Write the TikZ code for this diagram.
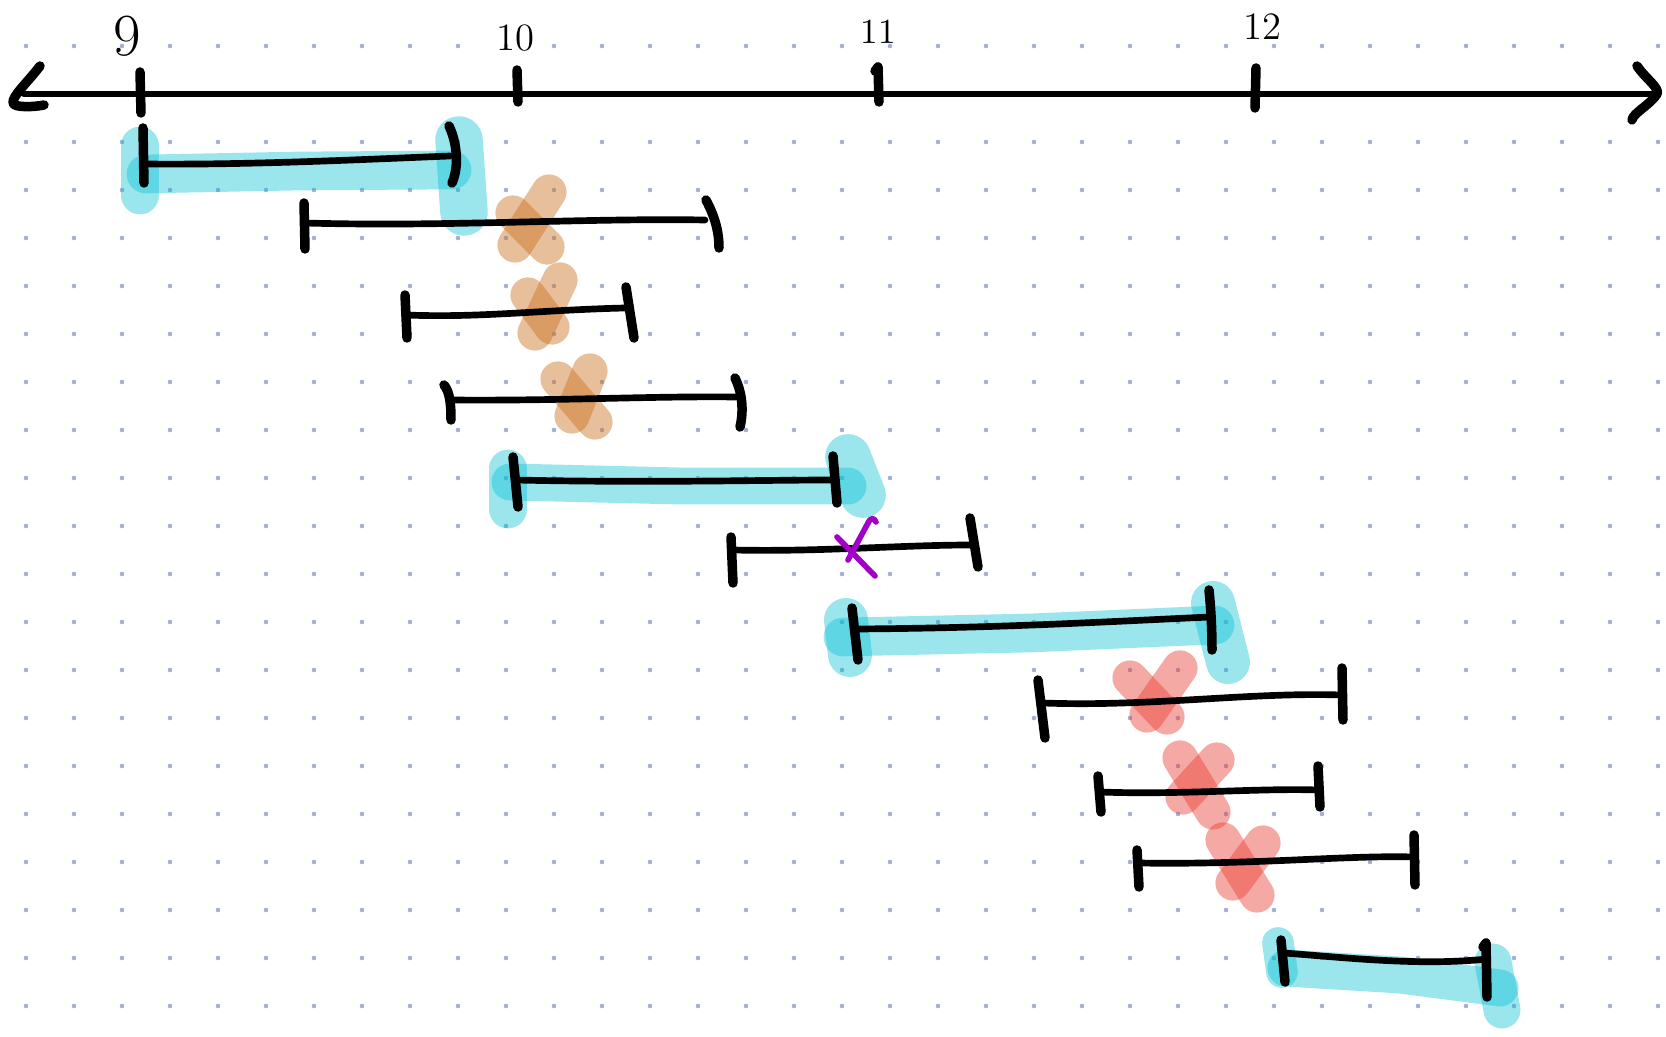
\documentclass[tikz,border=0pt]{standalone}
\definecolor{hlcyan}{RGB}{5,192,212}
\definecolor{hlorange}{RGB}{205,115,35}
\definecolor{hlred}{RGB}{235,65,55}
\definecolor{dotc}{RGB}{160,176,214}
\definecolor{checkc}{RGB}{160,0,200}
\begin{document}
\begin{tikzpicture}[x=0.01cm,y=-0.01cm,
  ink/.style={draw=black,line width=1.9pt,line cap=round,line join=round},
  tickmark/.style={draw=black,line width=2.7pt,line cap=round,line join=round},
  hlb/.style={draw=hlcyan,draw opacity=0.4,line cap=round,line join=round,line width=#1},
  hlb/.default=10pt,
  hlo/.style={draw=hlorange,draw opacity=0.45,line cap=round,line width=10pt},
  hlr/.style={draw=hlred,draw opacity=0.45,line cap=round,line width=10pt},
  chk/.style={draw=checkc,line width=1.6pt,line cap=round,line join=round},
  lbl/.style={inner sep=0pt,font=\fontsize{#1}{#1}\selectfont}]
\useasboundingbox (0,0) rectangle (1666,1037);
\fill[white] (0,0) rectangle (1666,1037);
% dot grid
\foreach \i in {0,...,34}{
  \foreach \j in {0,...,20}{
    \fill[dotc] (26+48*\i,46+48*\j) circle[radius=0.65pt];
  }
}
% ---------- axis ----------
\coordinate (axL) at (24,94);
\coordinate (axR) at (1657,94);
\draw[ink] (axL) -- (axR);
\draw[tickmark] (40,66) .. controls (28,82) and (12,96) .. (13,103) .. controls (14,108) and (35,107) .. (44,105);
\draw[tickmark] (1637,66) .. controls (1645,78) and (1660,88) .. (axR) .. controls (1650,105) and (1633,113) .. (1632,120);
\draw[tickmark] (140,72) -- (141,113);
\draw[tickmark] (517,70) -- (518,102);
\draw[tickmark] (875,71) -- (878,67) -- (879,102);
\draw[tickmark] (1256,68) -- (1255,108);
\node[lbl=17] (l9) at (127,36) {9};
\node[lbl=11] (l10) at (515,38) {10};
\node[lbl=10] (l11) at (878,32) {11};
\node[lbl=11] (l12) at (1262,27) {12};
% ---------- highlights ----------
% interval 1
\draw[hlb=11pt] (146,174) -- (300,171) -- (452,170);
\draw[hlb=11pt] (140,146) -- (140,195);
\draw[hlb=13.5pt] (459,140) -- (464,212);
% interval 5
\draw[hlb=10.5pt] (510,482) -- (680,486) -- (848,486);
\draw[hlb=11pt] (508,469) -- (508,509);
\draw[hlb=13pt] (848,457) -- (863,495);
% interval 7
\draw[hlb=11pt] (843,637) -- (1030,633) -- (1215,625);
\draw[hlb=12.5pt] (846,620) -- (850,655);
\draw[hlb=12.5pt] (1213,603) -- (1228,662);
% interval 11
\draw[hlb=10.5pt] (1286,968) -- (1400,975) -- (1500,988);
\draw[hlb=9pt] (1278,943) -- (1282,972);
\draw[hlb=10.5pt] (1493,962) -- (1502,1010);
% orange crosses
\draw[hlo] (549,192) -- (515,245);
\draw[hlo] (513,213) -- (547,247);
\draw[hlo] (560,280) -- (535,333);
\draw[hlo] (528,295) -- (552,327);
\draw[hlo] (590,371) -- (572,416);
\draw[hlo] (558,379) -- (595,422);
% red crosses
\draw[hlr] (1130,678) -- (1167,717);
\draw[hlr] (1180,668) -- (1147,715);
\draw[hlr] (1180,758) -- (1213,812);
\draw[hlr] (1217,760) -- (1183,797);
\draw[hlr] (1223,840) -- (1257,895);
\draw[hlr] (1263,843) -- (1233,883);
% ---------- intervals ----------
\coordinate (a1) at (143,164);  \coordinate (b1) at (450,156);
\coordinate (a2) at (304,223);  \coordinate (b2) at (705,220);
\coordinate (a3) at (406,315);  \coordinate (b3) at (625,308);
\coordinate (a4) at (450,400);  \coordinate (b4) at (736,397);
\coordinate (a5) at (515,480);  \coordinate (b5) at (834,480);
\coordinate (a6) at (733,550);  \coordinate (b6) at (972,545);
\coordinate (a7) at (857,629);  \coordinate (b7) at (1210,617);
\coordinate (a8) at (1043,703); \coordinate (b8) at (1341,695);
\coordinate (a9) at (1100,792); \coordinate (b9) at (1318,790);
\coordinate (a10) at (1139,863); \coordinate (b10) at (1413,857);
\coordinate (a11) at (1284,953); \coordinate (b11) at (1487,959);
\draw[ink] (a1) .. controls (250,165) and (350,160) .. (b1);
\draw[ink] (a2) .. controls (450,227) and (580,218) .. (b2);
\draw[ink] (a3) .. controls (480,318) and (540,310) .. (b3);
\draw[ink] (a4) .. controls (560,401) and (650,396) .. (b4);
\draw[ink] (a5) .. controls (650,483) and (760,480) .. (b5);
\draw[ink] (a6) .. controls (820,552) and (900,545) .. (b6);
\draw[ink] (a7) .. controls (1000,628) and (1100,622) .. (b7);
\draw[ink] (a8) .. controls (1150,707) and (1250,692) .. (b8);
\draw[ink] (a9) .. controls (1180,795) and (1260,788) .. (b9);
\draw[ink] (a10) .. controls (1250,865) and (1350,855) .. (b10);
\draw[ink] (a11) .. controls (1350,958) and (1420,966) .. (b11);
% end ticks
\draw[tickmark] (143,128) -- (144,183);
\draw[tickmark] (449,126) .. controls (456,140) and (460,165) .. (452,183);
\draw[tickmark] (304,203) -- (305,249);
\draw[tickmark] (706,200) .. controls (714,215) and (719,230) .. (719,248);
\draw[tickmark] (405,295) -- (407,338);
\draw[tickmark] (626,287) -- (634,338);
\draw[tickmark] (444,385) .. controls (450,392) and (451,405) .. (451,420);
\draw[tickmark] (735,378) .. controls (742,392) and (744,410) .. (740,427);
\draw[tickmark] (513,457) -- (518,507);
\draw[tickmark] (833,456) -- (837,503);
\draw[tickmark] (731,537) -- (733,583);
\draw[tickmark] (970,518) -- (978,567);
\draw[tickmark] (852,608) -- (858,660);
\draw[tickmark] (1209,590) .. controls (1211,610) and (1212,630) .. (1212,650);
\draw[tickmark] (1038,680) -- (1045,738);
\draw[tickmark] (1342,668) -- (1343,720);
\draw[tickmark] (1098,776) -- (1101,812);
\draw[tickmark] (1318,766) -- (1320,807);
\draw[tickmark] (1137,850) -- (1139,887);
\draw[tickmark] (1414,835) -- (1415,885);
\draw[tickmark] (1281,940) -- (1285,982);
\draw[tickmark] (1483,947) -- (1486,943) -- (1487,997);
% purple check
\draw[chk] (837,537) -- (875,576);
\draw[chk] (848,560) -- (868,523) .. controls (870,518) and (874,517) .. (876,522);
\end{tikzpicture}
\end{document}
